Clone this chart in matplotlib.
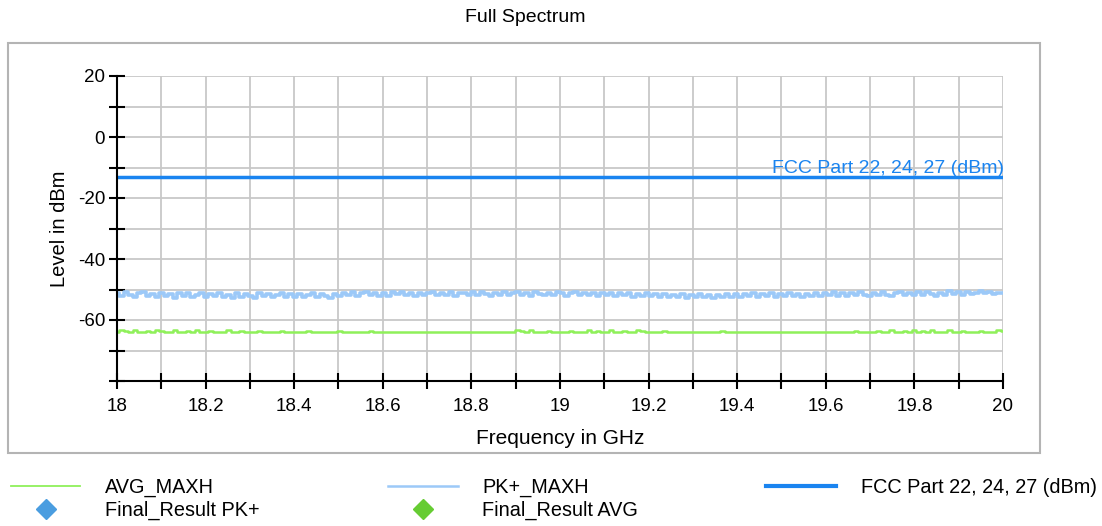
import numpy as np
import matplotlib
matplotlib.use("Agg")
import matplotlib.pyplot as plt
from matplotlib.lines import Line2D
from matplotlib.patches import Rectangle
from matplotlib.ticker import MultipleLocator

plt.rcParams["font.family"] = ["Liberation Sans", "DejaVu Sans"]
plt.rcParams["axes.unicode_minus"] = False

# sweep 18-20 GHz, max-hold traces (dBm)
pk_maxh = [
    -51.3, -52.1, -50.9, -51.8, -52.4, -51.2, -50.8, -52.0, -51.4, -52.6, -51.1, -52.2, -51.6, -52.7, -51.2, -52.0, -51.0, -52.4, -51.7, -51.3,
    -52.5, -51.5, -52.2, -51.1, -52.6, -51.7, -52.8, -51.3, -52.3, -51.6, -52.0, -52.7, -51.2, -52.2, -51.5, -52.5, -51.8, -51.1, -52.4, -51.6,
    -52.3, -51.4, -52.6, -51.7, -51.2, -52.3, -51.5, -52.0, -52.7, -51.4, -52.1, -51.0, -51.9, -50.9, -52.0, -51.3, -50.8, -51.8, -51.1, -52.0,
    -51.2, -52.0, -50.9, -51.6, -50.8, -51.8, -51.1, -52.1, -51.0, -51.7, -51.3, -50.8, -51.9, -51.1, -51.7, -50.9, -52.0, -51.3, -51.0, -51.8,
    -50.9, -51.7, -50.8, -51.5, -52.0, -51.1, -51.7, -50.9, -51.8, -51.3, -50.7, -51.7, -51.1, -52.0, -50.9, -51.4, -51.9, -51.1, -51.7, -50.9,
    -51.3, -52.0, -51.1, -50.8, -51.7, -51.0, -51.9, -51.3, -52.2, -51.1, -51.7, -51.0, -52.1, -51.3, -51.9, -51.1, -52.3, -51.5, -52.1, -51.2,
    -52.2, -51.4, -52.4, -51.6, -52.6, -51.7, -52.4, -51.4, -52.7, -51.8, -52.3, -51.5, -52.6, -51.7, -52.8, -51.8, -52.4, -51.5, -52.3, -51.6,
    -52.4, -51.5, -52.1, -51.1, -52.3, -51.4, -52.0, -51.0, -52.4, -51.5, -52.1, -51.2, -52.0, -51.4, -52.3, -51.4, -52.2, -51.2, -52.0, -51.0,
    -51.8, -50.9, -52.0, -51.2, -52.2, -51.0, -51.8, -50.8, -51.7, -52.1, -51.0, -51.8, -50.9, -51.7, -52.2, -51.2, -50.9, -51.8, -51.0, -51.7,
    -50.9, -51.7, -50.8, -51.4, -52.0, -51.0, -51.7, -50.6, -51.4, -50.9, -51.7, -50.8, -51.5, -51.0, -50.6, -51.3, -50.8, -51.5, -51.0, -51.2,
]

avg_maxh = [
    -63.9, -63.4, -63.5, -63.9, -63.4, -63.9, -63.9, -63.5, -63.9, -63.4, -63.5, -63.9, -63.9, -63.4, -63.9, -63.9, -63.5, -63.9, -63.4, -63.9,
    -63.9, -63.5, -63.9, -63.9, -63.9, -63.4, -63.9, -63.9, -63.5, -63.9, -63.9, -63.9, -63.5, -63.9, -63.9, -63.9, -63.9, -63.5, -63.9, -63.9,
    -63.9, -63.9, -63.9, -63.5, -63.9, -63.9, -63.9, -63.9, -63.9, -63.9, -63.5, -63.9, -63.9, -63.9, -63.9, -63.9, -63.9, -63.5, -63.9, -63.9,
    -63.9, -63.9, -63.9, -63.9, -63.9, -63.9, -63.9, -63.9, -63.9, -63.9, -63.9, -63.9, -63.9, -63.9, -63.9, -63.9, -63.9, -63.9, -63.9, -63.9,
    -63.9, -63.9, -63.9, -63.9, -63.9, -63.9, -63.9, -63.9, -63.9, -63.9, -63.4, -63.5, -63.9, -63.4, -63.9, -63.9, -63.9, -63.5, -63.9, -63.9,
    -63.9, -63.9, -63.5, -63.9, -63.9, -63.9, -63.4, -63.9, -63.5, -63.9, -63.9, -63.4, -63.9, -63.9, -63.5, -63.9, -63.9, -63.4, -63.5, -63.9,
    -63.9, -63.9, -63.9, -63.5, -63.9, -63.9, -63.9, -63.9, -63.9, -63.9, -63.9, -63.9, -63.9, -63.9, -63.9, -63.9, -63.5, -63.9, -63.9, -63.9,
    -63.9, -63.9, -63.9, -63.9, -63.9, -63.9, -63.9, -63.9, -63.9, -63.9, -63.9, -63.9, -63.9, -63.9, -63.9, -63.9, -63.9, -63.9, -63.9, -63.9,
    -63.9, -63.9, -63.9, -63.9, -63.9, -63.9, -63.5, -63.9, -63.9, -63.9, -63.9, -63.5, -63.9, -63.9, -63.4, -63.9, -63.9, -63.5, -63.9, -63.4,
    -63.9, -63.5, -63.9, -63.4, -63.9, -63.9, -63.9, -63.4, -63.9, -63.9, -63.5, -63.9, -63.9, -63.9, -63.5, -63.9, -63.9, -63.9, -63.4, -63.5,
]

freq = np.linspace(18.0, 20.0, len(pk_maxh))

limit_freq = [18.0, 20.0]
limit_level = [-13.0, -13.0]
limit_name = "FCC Part 22, 24, 27 (dBm)"

x_ticks = [18.0, 18.2, 18.4, 18.6, 18.8, 19.0, 19.2, 19.4, 19.6, 19.8, 20.0]
x_labels = ["18", "18.2", "18.4", "18.6", "18.8", "19",
            "19.2", "19.4", "19.6", "19.8", "20"]
y_ticks = [20, 0, -20, -40, -60]

fig = plt.figure(figsize=(11.02, 5.26), dpi=100)

# gray frame around the diagram
fig.add_artist(Rectangle((8 / 1102, 1 - 453 / 526), 1032 / 1102, 410 / 526,
                         transform=fig.transFigure, fill=False,
                         edgecolor="#b4b4b4", linewidth=1.5))

ax = fig.add_axes([117 / 1102, 1 - 381 / 526, 886 / 1102, 305 / 526])

ax.plot(freq, avg_maxh, color="#8ff05a", linewidth=1.8, drawstyle="steps-mid")
ax.plot(freq, pk_maxh, color="#9cc9f8", linewidth=2.6, drawstyle="steps-mid")
ax.plot(limit_freq, limit_level, color="#1a84f0", linewidth=2.5)
ax.text(limit_freq[1] + 0.003, limit_level[1] + 1.3, limit_name, color="#1a84f0",
        fontsize=14, ha="right", va="baseline")

ax.set_xlim(18, 20)
ax.set_ylim(-80, 20)
ax.xaxis.set_minor_locator(MultipleLocator(0.1))
ax.yaxis.set_minor_locator(MultipleLocator(10))
ax.set_xticks(x_ticks)
ax.set_xticklabels(x_labels)
ax.set_yticks(y_ticks)

ax.grid(True, which="both", color="#c8c8c8", linewidth=1.3)
ax.set_axisbelow(True)
for side in ("top", "right"):
    ax.spines[side].set_visible(False)
for side in ("left", "bottom"):
    ax.spines[side].set_linewidth(1.5)
ax.tick_params(which="both", direction="inout", length=11, width=1.5,
               labelsize=13.5)
ax.tick_params(axis="y", pad=3)
ax.tick_params(axis="x", pad=7)

ax.set_xlabel("Frequency in GHz", fontsize=15, labelpad=10)
ax.set_ylabel("Level in dBm", fontsize=14.5, labelpad=6)
fig.text(525 / 1102, 1 - 17 / 526, "Full Spectrum", ha="center", va="center",
         fontsize=14)

handles = [
    Line2D([], [], color="#8ff05a", linewidth=1.3),
    Line2D([], [], color="#4a9de0", marker="D", markersize=10, linestyle="None"),
    Line2D([], [], color="#9cc9f8", linewidth=1.8),
    Line2D([], [], color="#66cc33", marker="D", markersize=10, linestyle="None"),
    Line2D([], [], color="#1a84f0", linewidth=3),
]
labels = ["AVG_MAXH", "Final_Result PK+", "PK+_MAXH", "Final_Result AVG", limit_name]
fig.legend(handles, labels, loc="upper left",
           bbox_to_anchor=(5 / 1102, 1 - 472 / 526),
           ncol=3, frameon=False, fontsize=14.3, handlelength=3.5,
           handletextpad=1.25, columnspacing=6.45, labelspacing=0.2,
           borderaxespad=0, borderpad=0.3)

fig.savefig("out.png", dpi=100)
